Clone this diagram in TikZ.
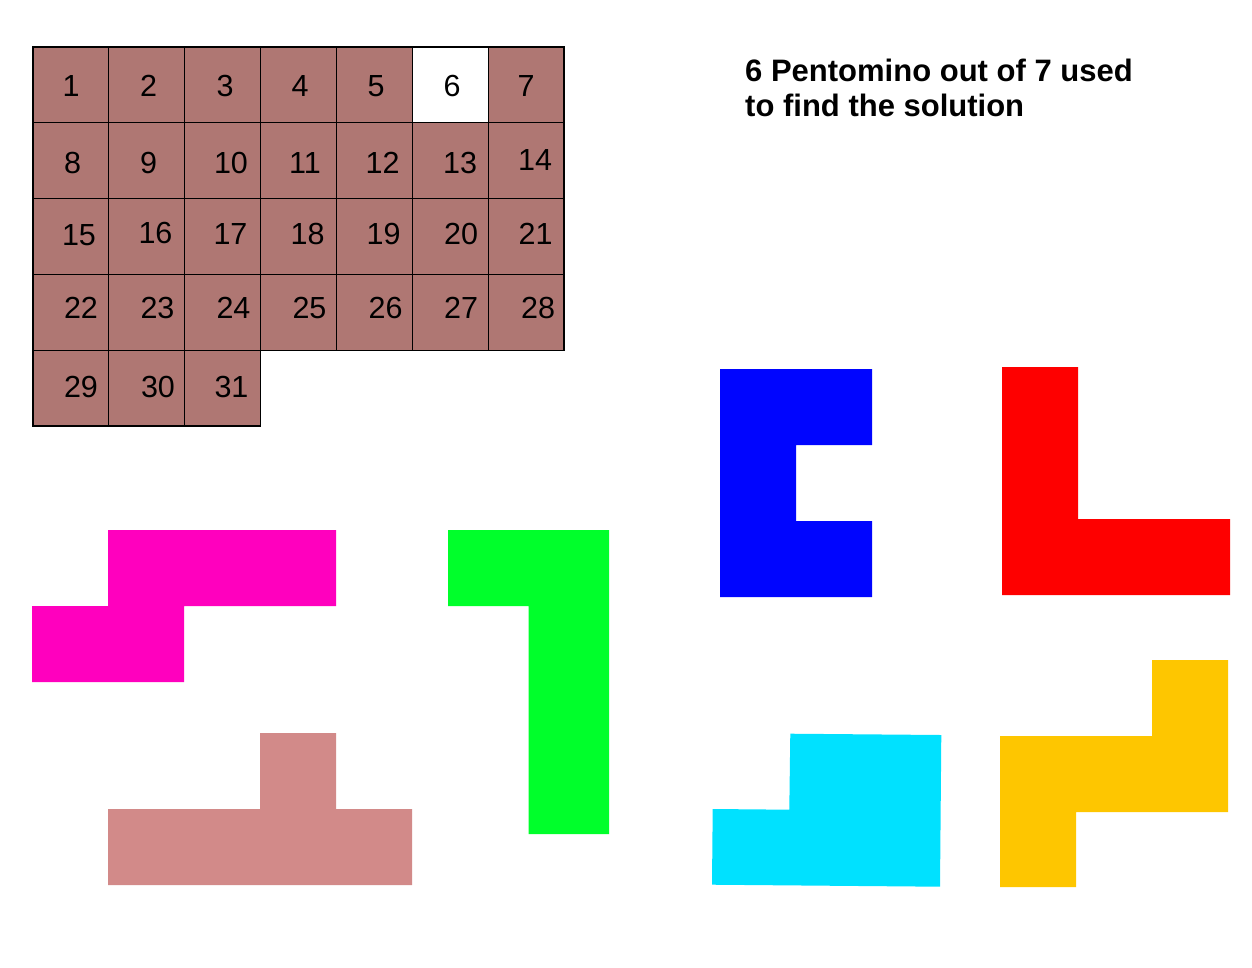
\documentclass[tikz,border=0pt]{standalone}
\usepackage{fontspec}
\setmainfont{Liberation Sans}
\definecolor{gridbrown}{HTML}{AF7773}
\definecolor{pblue}{HTML}{0005FF}
\definecolor{pred}{HTML}{FE0000}
\definecolor{pmagenta}{HTML}{FF00BE}
\definecolor{pgreen}{HTML}{00FF2B}
\definecolor{ppink}{HTML}{D28A89}
\definecolor{pcyan}{HTML}{00E1FF}
\definecolor{pyellow}{HTML}{FEC600}
\tikzset{
  cell/.style={draw=black, line width=1.2pt, fill=gridbrown},
  numlbl/.style={font=\fontsize{30.5}{36}\selectfont, inner sep=0pt, text=black},
  title/.style={font=\fontsize{31}{37}\selectfont\bfseries, inner sep=0pt, anchor=base west},
  piece/.style={draw=none}
}
\begin{document}
\begin{tikzpicture}[x=1pt,y=-1pt]
\useasboundingbox (0,0) rectangle (1252,967);
% grid cells
\foreach \r/\cols in {0/7,1/7,2/7,3/7,4/3}{
  \foreach \c in {1,...,\cols}{
    \pgfmathsetmacro{\xa}{33+75.86*(\c-1)}
    \pgfmathsetmacro{\ya}{47+75.8*\r}
    \path[cell] (\xa,\ya) rectangle ++(75.86,75.8);
  }
}
\path[cell, fill=white] (412.3,47) rectangle ++(75.86,75.8);
% numbers
\foreach \n/\x/\y in {1/71/86,2/148.5/86,3/225/86,4/300/86,5/376/86,6/452/86,7/526/86,
  8/72.5/163,9/148.5/163,10/231/163,11/305/163,12/382.5/163,13/460/163,14/535/160,
  15/79/235,16/155.5/233,17/230.5/234,18/307.5/234,19/383.5/234,20/461/234,21/535.5/234,
  22/81/308,23/157.5/308,24/233.5/308,25/309.5/308,26/385.5/308,27/461/308,28/538/308,
  29/81/387,30/158/387,31/231.5/387}{
  \node[numlbl] (n\n) at (\x,\y) {\n};
}
% title
\node[title] (t1) at (745,81) {6 Pentomino out of 7 used};
\node[title] (t2) at (745,116) {to find the solution};
% pieces
\fill[pblue] (720,369) -- (872,369) -- (872,445) -- (796,445) -- (796,521) -- (872,521) -- (872,597) -- (720,597) -- cycle;
\fill[pred] (1002,367) -- (1078,367) -- (1078,519) -- (1230,519) -- (1230,595) -- (1002,595) -- cycle;
\fill[pmagenta] (108,530) -- (336,530) -- (336,606) -- (184,606) -- (184,682) -- (32,682) -- (32,606) -- (108,606) -- cycle;
\fill[pgreen] (448,530) -- (609,530) -- (609,834) -- (528.7,834) -- (528.7,606) -- (448,606) -- cycle;
\fill[ppink] (260,733) -- (336,733) -- (336,809) -- (412,809) -- (412,885) -- (108,885) -- (108,809) -- (260,809) -- cycle;
\fill[pcyan] (790.3,733.7) -- (941.3,735) -- (940,886.7) -- (712,884.7) -- (712.7,809) -- (789.3,809.7) -- cycle;
\fill[pyellow] (1152,660) -- (1228,660) -- (1228,812) -- (1076,812) -- (1076,887) -- (1000,887) -- (1000,736) -- (1152,736) -- cycle;
\end{tikzpicture}
\end{document}
